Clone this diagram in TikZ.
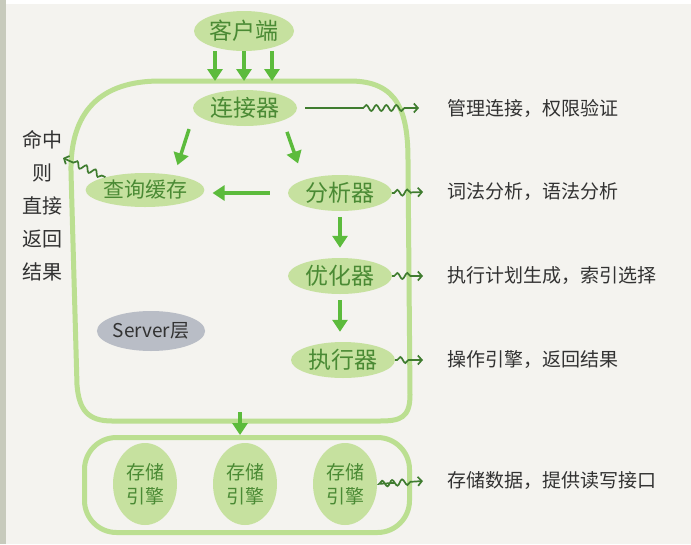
\documentclass[tikz,border=0pt]{standalone}
\usepackage{fontspec}
\setmainfont{Noto Sans CJK SC}
\usetikzlibrary{positioning, shapes.geometric, arrows.meta, decorations.pathmorphing}
\definecolor{paperColor}{RGB}{244,243,239}
\definecolor{stripColor}{RGB}{199,202,188}
\definecolor{moduleFill}{RGB}{198,225,159}
\definecolor{moduleText}{RGB}{74,138,52}
\definecolor{flowColor}{RGB}{92,187,60}
\definecolor{layerColor}{RGB}{187,223,145}
\definecolor{noteColor}{RGB}{63,124,47}
\definecolor{labelColor}{RGB}{50,50,50}
\definecolor{serverFill}{RGB}{185,189,198}
\tikzstyle{module} = [ellipse, fill=moduleFill, text=moduleText, inner sep=0pt, minimum width=104pt, minimum height=36pt, font=\fontsize{23}{26}\selectfont]
\tikzstyle{engine} = [module, minimum width=64pt, minimum height=82pt, align=center, font=\fontsize{19}{24}\selectfont]
\tikzstyle{serverTag} = [ellipse, fill=serverFill, text=labelColor, inner sep=0pt, minimum width=108pt, minimum height=40pt, font=\fontsize{19}{22}\selectfont]
\tikzstyle{flow} = [draw=flowColor, line width=3.5pt, -{Triangle[width=15pt,length=12pt]}]
\tikzstyle{layer} = [draw=layerColor, line width=5pt]
\tikzstyle{note} = [draw=noteColor, line width=1.7pt, -{Straight Barb[length=4pt,width=9pt]}, decorate, decoration={snake, amplitude=3pt, segment length=10pt, post length=11pt}]
\tikzstyle{remark} = [text=labelColor, inner sep=0pt, font=\fontsize{19}{22}\selectfont]
\newcommand{\remarkGap}{-24pt}

\begin{document}
\begin{tikzpicture}[x=1pt, y=-1pt]
  \useasboundingbox (0,0) rectangle (691,544);
  \fill [paperColor] (0,0) rectangle (691,544);
  \fill [stripColor] (0,0) rectangle (6,544);
  \fill [white] (6,0) rectangle (691,4);

  % server layer
  \draw [layer] (160,81) -- (350,81) .. controls (398,81) and (408,112) .. (408,160)
    -- (410,395) .. controls (410,418) and (400,421) .. (380,421) -- (112,421)
    .. controls (88,421) and (79,410) .. (77,385) -- (71,172)
    .. controls (70,112) and (100,81) .. (160,81) -- cycle;
  \coordinate (serverTop) at (244,81);
  \coordinate (serverBottom) at (240,412);

  % storage layer
  \node [layer, rounded corners=32pt, minimum width=325pt, minimum height=95pt] (storage) at (247,485) {};

  \node [module, minimum width=100pt, minimum height=40pt] (client) at (244,31) {客户端};
  \node [module] (connector) at (245,108) {连接器};
  \node [module, minimum width=114pt, minimum height=34pt, font=\fontsize{21}{24}\selectfont] (cache) at (145,190) {查询缓存};
  \node [module] (analyzer) at (340,193) {分析器};
  \node [module] (optimizer) at (340,276) {优化器};
  \node [module] (executor) at (343,360) {执行器};
  \node [serverTag] (server) at (151,331) {Server层};
  \foreach \i/\x in {1/145,2/245,3/345}
    \node [engine] (engine\i) at (\x,484) {存储\\引擎};

  % flow arrows
  \foreach \dx in {-29,0,28}
    \draw [flow] ([xshift=\dx pt]client.south) -- ([xshift=\dx pt]serverTop);
  \draw [flow, shorten <=3pt, shorten >=8pt] ([xshift=-55pt]connector.south) -- ([xshift=30pt]cache.north);
  \draw [flow, shorten <=6pt, shorten >=12pt] ([xshift=40pt]connector.south) -- ([xshift=-38pt]analyzer.north);
  \draw [flow, shorten <=18pt, shorten >=8pt] (analyzer.west) -- (analyzer.west -| cache.east);
  \draw [flow, shorten <=6pt, shorten >=10pt] (analyzer.south) -- (optimizer.north);
  \draw [flow, shorten <=6pt, shorten >=10pt] (optimizer.south) -- (optimizer.south |- executor.north);
  \draw [flow] (serverBottom) -- (serverBottom |- storage.north);

  % remarks
  \node [remark, align=center, font=\fontsize{20}{33}\selectfont] (hitNote) at (42,206) {命中\\则\\直接\\返回\\结果};
  \node [remark, anchor=west] (connectorNote) at (447,108) {管理连接，权限验证};
  \node [remark, anchor=west] (analyzerNote) at (447,192) {词法分析，语法分析};
  \node [remark, anchor=west] (optimizerNote) at (447,276) {执行计划生成，索引选择};
  \node [remark, anchor=west] (executorNote) at (447,360) {操作引擎，返回结果};
  \node [remark, anchor=west] (storageNote) at (447,481) {存储数据，提供读写接口};
  \coordinate (hitTip) at (63,158);

  \draw [note, decoration={pre length=66pt}, shorten <=8pt] (connector.east) -- ([xshift=-28pt]connectorNote.west);
  \draw [note, decoration={pre length=2pt}] (analyzer.east) -- ([xshift=\remarkGap]analyzerNote.west);
  \draw [note, decoration={pre length=2pt}] (optimizer.east) -- ([xshift=\remarkGap]optimizerNote.west);
  \draw [note, decoration={pre length=2pt}] (executor.east) -- ([xshift=\remarkGap]executorNote.west);
  \draw [note, decoration={pre length=2pt}, shorten <=18pt] (engine3.east) -- ([xshift=\remarkGap]storageNote.west);
  \draw [note, decoration={pre length=4pt, post length=9pt}] (cache.162) -- (hitTip);
\end{tikzpicture}
\end{document}
